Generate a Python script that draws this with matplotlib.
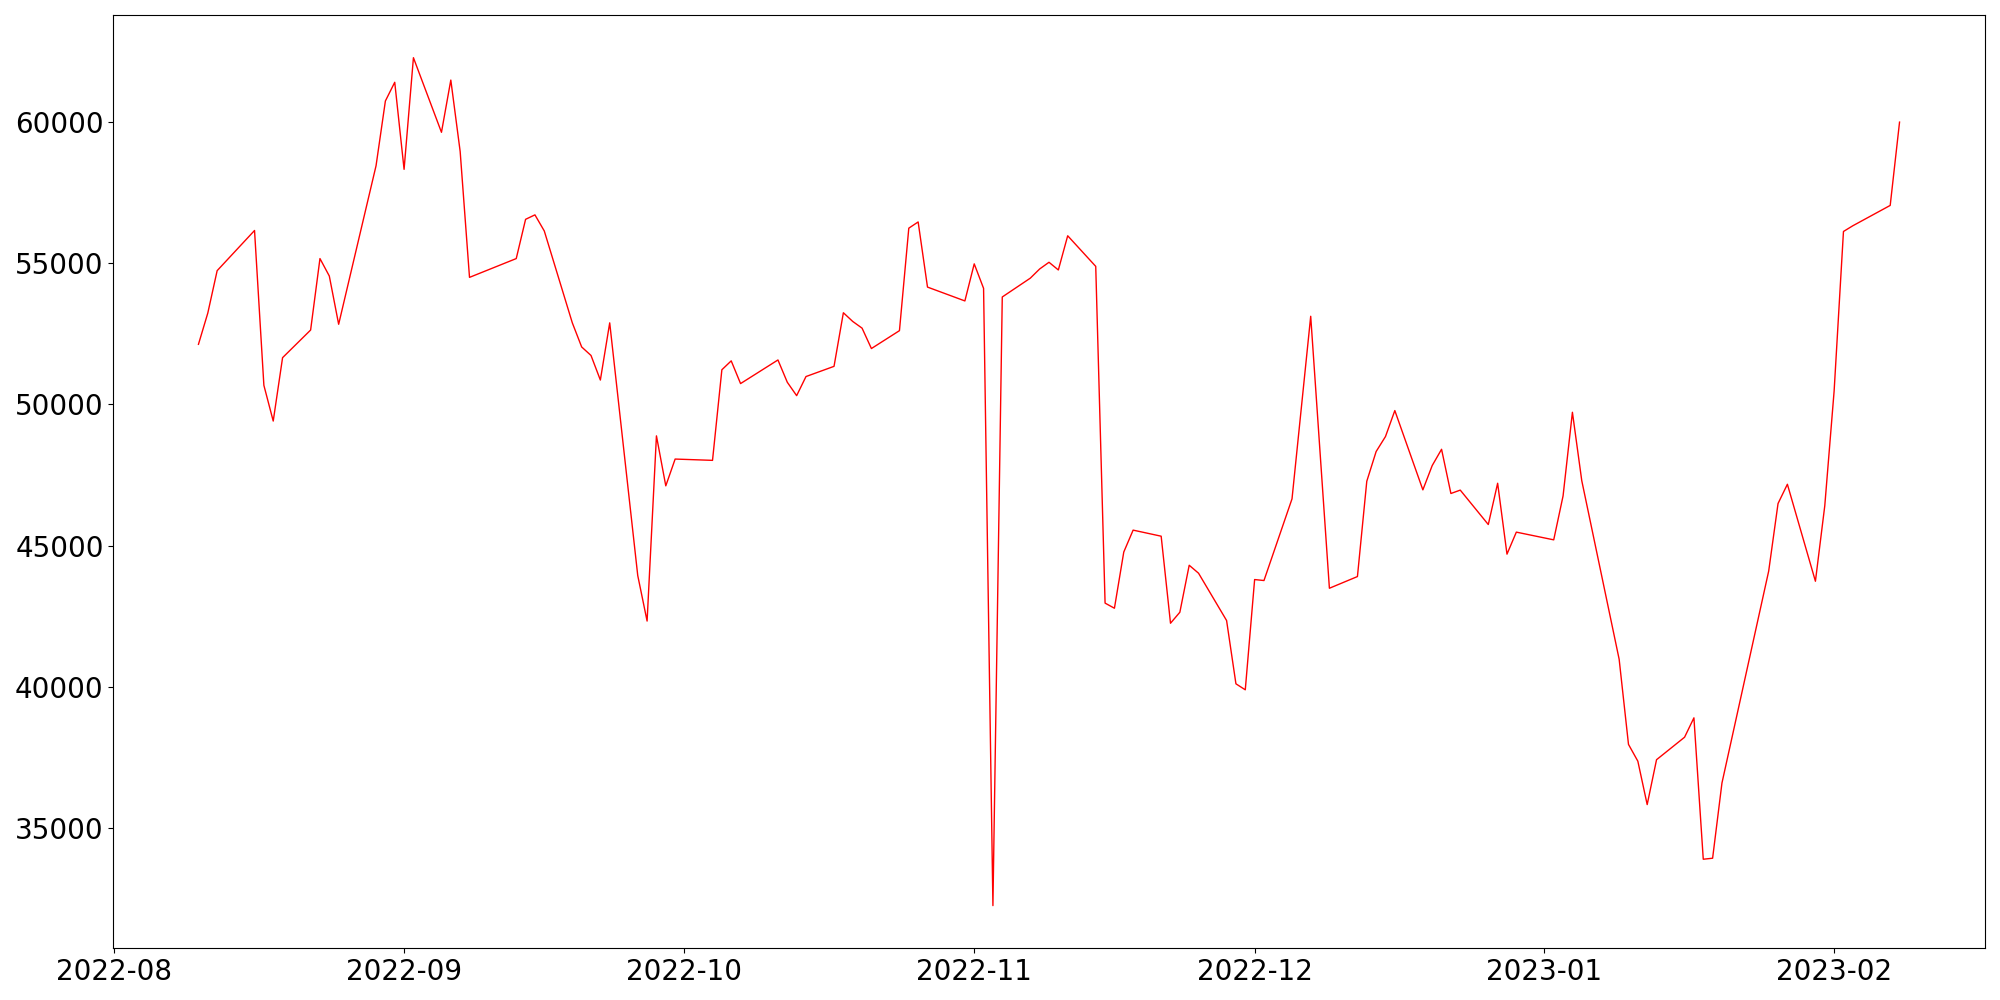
import matplotlib
matplotlib.use("Agg")
import matplotlib.pyplot as plt
import pandas as pd

dates = [
    "2022-08-10", "2022-08-11", "2022-08-12", "2022-08-16", "2022-08-17", "2022-08-18", "2022-08-19",
    "2022-08-22", "2022-08-23", "2022-08-24", "2022-08-25", "2022-08-29", "2022-08-30", "2022-08-31",
    "2022-09-01", "2022-09-02", "2022-09-05", "2022-09-06", "2022-09-07", "2022-09-08", "2022-09-13",
    "2022-09-14", "2022-09-15", "2022-09-16", "2022-09-19", "2022-09-20", "2022-09-21", "2022-09-22",
    "2022-09-23", "2022-09-26", "2022-09-27", "2022-09-28", "2022-09-29", "2022-09-30", "2022-10-04",
    "2022-10-05", "2022-10-06", "2022-10-07", "2022-10-11", "2022-10-12", "2022-10-13", "2022-10-14",
    "2022-10-17", "2022-10-18", "2022-10-19", "2022-10-20", "2022-10-21", "2022-10-24", "2022-10-25",
    "2022-10-26", "2022-10-27", "2022-10-31", "2022-11-01", "2022-11-02", "2022-11-03", "2022-11-04",
    "2022-11-07", "2022-11-08", "2022-11-09", "2022-11-10", "2022-11-11", "2022-11-14", "2022-11-15",
    "2022-11-16", "2022-11-17", "2022-11-18", "2022-11-21", "2022-11-22", "2022-11-23", "2022-11-24",
    "2022-11-25", "2022-11-28", "2022-11-29", "2022-11-30", "2022-12-01", "2022-12-02", "2022-12-05",
    "2022-12-07", "2022-12-09", "2022-12-12", "2022-12-13", "2022-12-14", "2022-12-15", "2022-12-16",
    "2022-12-19", "2022-12-20", "2022-12-21", "2022-12-22", "2022-12-23", "2022-12-26", "2022-12-27",
    "2022-12-28", "2022-12-29", "2023-01-02", "2023-01-03", "2023-01-04", "2023-01-05", "2023-01-09",
    "2023-01-10", "2023-01-11", "2023-01-12", "2023-01-13", "2023-01-16", "2023-01-17", "2023-01-18",
    "2023-01-19", "2023-01-20", "2023-01-25", "2023-01-26", "2023-01-27", "2023-01-30", "2023-01-31",
    "2023-02-01", "2023-02-02", "2023-02-03", "2023-02-07", "2023-02-08",
]

values = [
    52125, 53231, 54731, 56153, 50673, 49409, 51652,
    52630, 55159, 54542, 52834, 58443, 60736, 61398,
    58317, 62268, 59628, 61476, 58949, 54494, 55159,
    56548, 56706, 56136, 52884, 52031, 51730, 50860,
    52884, 43942, 42331, 48885, 47116, 48064, 48018,
    51224, 51539, 50735, 51571, 50782, 50308, 50984,
    51345, 53242, 52934, 52697, 51975, 52608, 56235,
    56455, 54150, 53660, 54972, 54105, 32261, 53800,
    54466, 54791, 55028, 54756, 55966, 54883, 42966,
    42785, 44774, 45549, 45334, 42254, 42643, 44306,
    44024, 42350, 40110, 39898, 43800, 43765, 46656,
    53117, 43492, 43906, 47278, 48330, 48861, 49780,
    46974, 47834, 48410, 46845, 46965, 45747, 47208,
    44699, 45478, 45205, 46759, 49720, 47300, 40980,
    37966, 37372, 35836, 37424, 38220, 38906, 33902,
    33938, 36600, 44100, 46490, 47172, 43740, 46410,
    50470, 56118, 56320, 57040, 59988,
]

x = pd.to_datetime(dates)

fig = plt.figure(figsize=(20, 10), dpi=100)
ax = fig.add_axes([0.0567, 0.052, 0.9356, 0.9327])
ax.plot(x, values, color="red", linewidth=1.0)
ax.tick_params(axis="both", labelsize=20)

fig.savefig("out.png", dpi=100)
